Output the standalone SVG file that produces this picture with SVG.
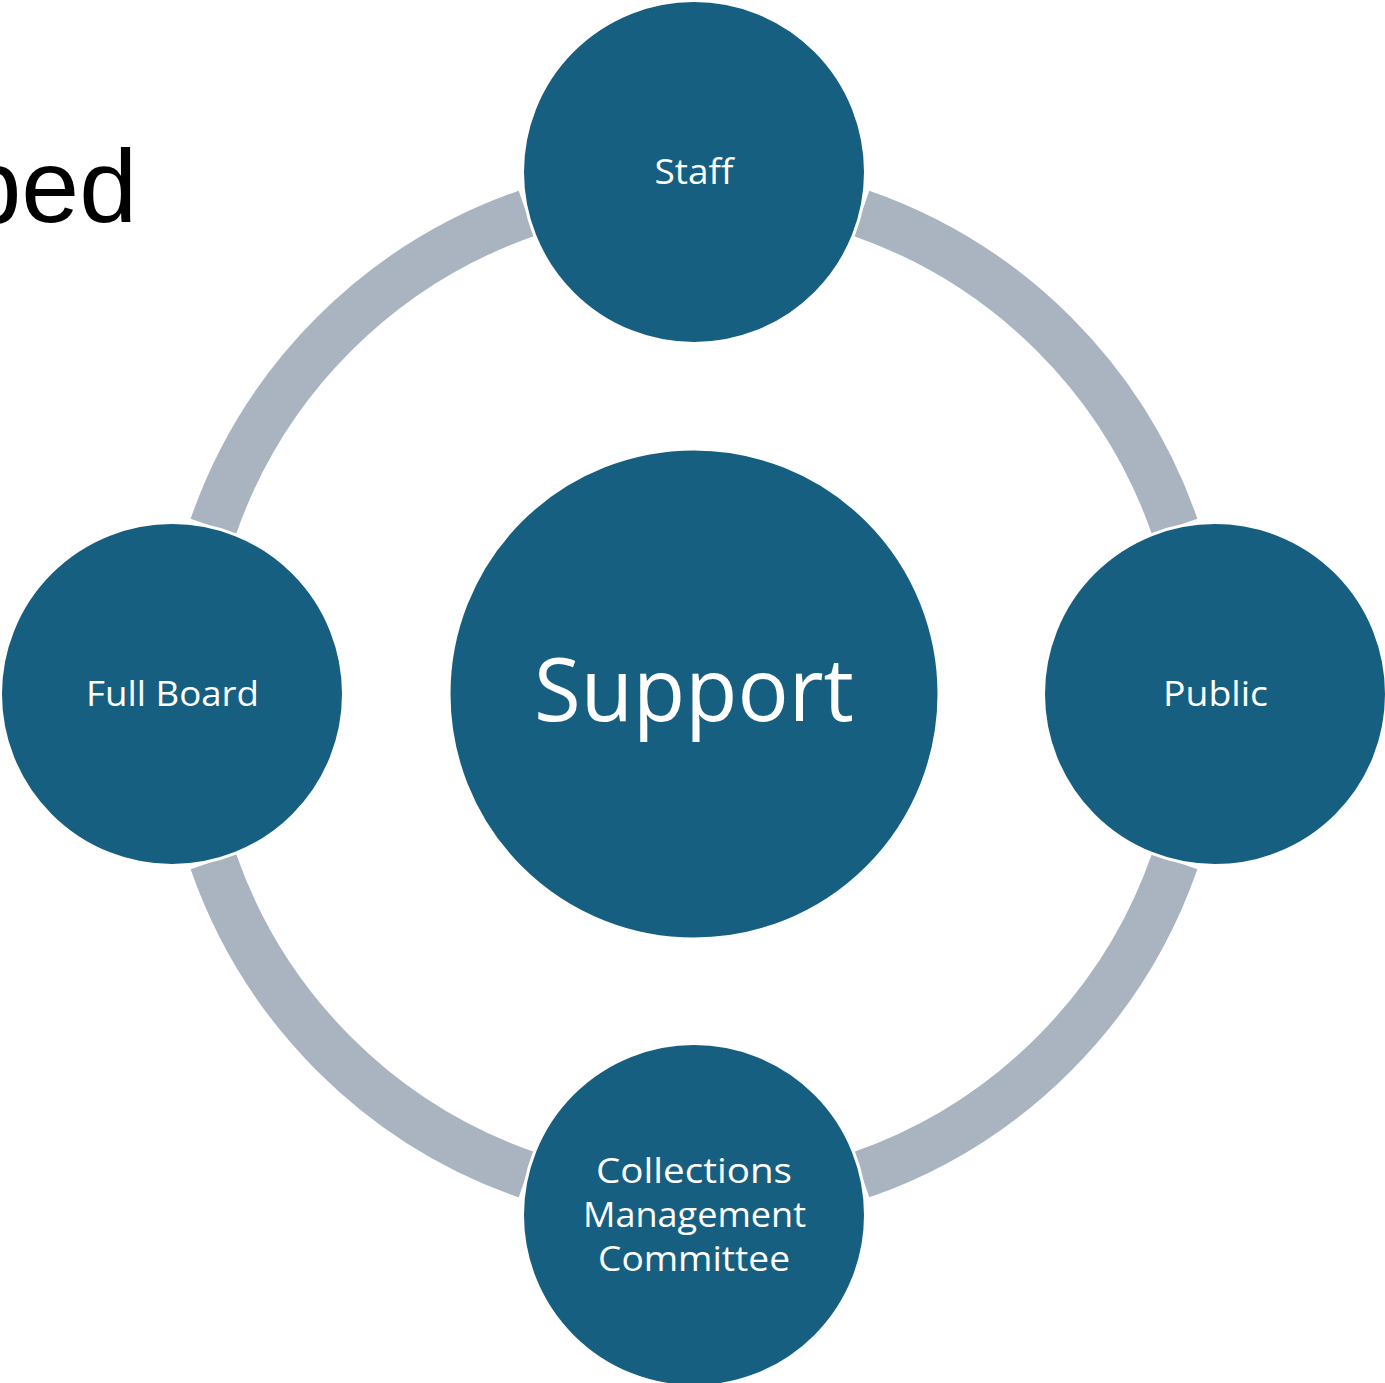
<svg xmlns="http://www.w3.org/2000/svg" width="1385" height="1383" viewBox="0 0 1385 1383">
<style>
.ring{fill:none;stroke:#A9B4C0;stroke-width:48;stroke-linecap:butt}
.node{fill:#175F80;stroke:#FFFFFF;stroke-width:3}
.lbl{fill:#FFFFFF;font-family:"Open Sans","Noto Sans",sans-serif;font-size:35px;text-anchor:middle}
.big{font-size:88px}
.title{fill:#000000;font-family:"Liberation Sans",Arial,sans-serif;font-size:104px;text-anchor:end}
</style>
<rect width="1385" height="1383" fill="#FFFFFF"/>
<text class="title" x="137" y="222">bed</text>
<g id="connectors">
<path class="ring" d="M861.4,213.3 A509,509 0 0 1 1174.7,526.6"/>
<path class="ring" d="M1174.7,861.4 A509,509 0 0 1 861.4,1174.7"/>
<path class="ring" d="M526.6,1174.7 A509,509 0 0 1 213.3,861.4"/>
<path class="ring" d="M213.3,526.6 A509,509 0 0 1 526.6,213.3"/>
</g>
<g id="support">
<circle class="node" cx="694" cy="694" r="245"/>
<text class="lbl big" x="694" y="721" textLength="320" lengthAdjust="spacingAndGlyphs">Support</text>
</g>
<g id="staff">
<circle class="node" cx="694" cy="172" r="171.5"/>
<text class="lbl" x="694" y="184" textLength="79" lengthAdjust="spacingAndGlyphs">Staff</text>
</g>
<g id="public">
<circle class="node" cx="1215" cy="694" r="171.5"/>
<text class="lbl" x="1215.5" y="706" textLength="105" lengthAdjust="spacingAndGlyphs">Public</text>
</g>
<g id="committee">
<circle class="node" cx="694" cy="1215" r="171.5"/>
<text class="lbl" x="694" y="1183" textLength="196" lengthAdjust="spacingAndGlyphs">Collections</text>
<text class="lbl" x="694.5" y="1227" textLength="223" lengthAdjust="spacingAndGlyphs">Management</text>
<text class="lbl" x="694" y="1271" textLength="192" lengthAdjust="spacingAndGlyphs">Committee</text>
</g>
<g id="fullboard">
<circle class="node" cx="172" cy="694" r="171.5"/>
<text class="lbl" x="172.5" y="706" textLength="173" lengthAdjust="spacingAndGlyphs">Full Board</text>
</g>
</svg>
